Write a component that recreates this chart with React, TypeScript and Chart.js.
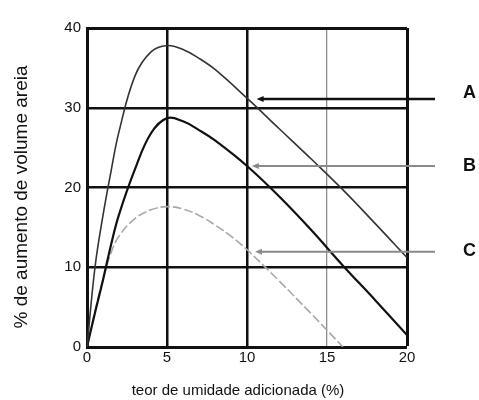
import { useEffect, useRef } from 'react';
import { Chart, registerables } from 'chart.js';

Chart.register(...registerables);

// ---- data ----
const xAB = [0, 0.5, 1, 1.5, 2, 3, 4, 5, 6, 7, 8, 10, 12, 14, 16, 18, 20];
const seriesA = [0, 10, 16.5, 22, 27, 34, 37, 37.8, 37.3, 36.2, 34.8, 31.2, 27.4, 23.6, 19.7, 15.5, 11.2];
const seriesB = [0, 4.3, 8.4, 12.8, 16.6, 22.3, 26.8, 28.7, 28.3, 27.2, 25.9, 22.7, 18.9, 14.7, 10.2, 5.9, 1.5];
const xC = [0, 0.5, 1, 1.5, 2, 3, 4, 5, 6, 7, 8, 9, 10, 12, 14, 16];
const seriesC = [0, 4.5, 8.5, 11.8, 13.9, 16.1, 17.2, 17.6, 17.3, 16.5, 15.3, 13.9, 12.2, 8.3, 4.2, 0];

const seriesNames = ['A', 'B', 'C'];
const arrowY = [31.1, 22.7, 11.95];
const arrowTipX = [10.6, 10.3, 10.5];
const arrowTailX = [21.75, 21.75, 21.75];
const labelX = [23.5, 23.5, 23.5];
const labelY = [31.9, 22.7, 12.0];

const xTicks = [0, 5, 10, 15, 20];
const yTicks = [0, 10, 20, 30, 40];

const xTitle = 'teor de umidade adicionada (%)';
const yTitle = '% de aumento de volume areia';

const FONT = '"Liberation Sans", Arial, Helvetica, sans-serif';

const overlayPlugin = {
  id: 'overlay',
  afterDatasetsDraw(chart: any) {
    const { ctx } = chart;
    const xs = chart.scales.x;
    const ys = chart.scales.y;
    const arrowColors = ['#111', '#8a8a8a', '#8a8a8a'];
    const arrowWidths = [2.5, 2, 2];
    ctx.save();
    for (let i = 0; i < seriesNames.length; i++) {
      const py = ys.getPixelForValue(arrowY[i]);
      const tip = xs.getPixelForValue(arrowTipX[i]);
      const tail = xs.getPixelForValue(arrowTailX[i]);
      ctx.strokeStyle = arrowColors[i];
      ctx.fillStyle = arrowColors[i];
      ctx.lineWidth = arrowWidths[i];
      ctx.beginPath();
      ctx.moveTo(tail, py);
      ctx.lineTo(tip + 5, py);
      ctx.stroke();
      ctx.beginPath();
      ctx.moveTo(tip, py);
      ctx.lineTo(tip + 7, py - 3);
      ctx.lineTo(tip + 7, py + 3);
      ctx.closePath();
      ctx.fill();

      ctx.fillStyle = '#111';
      ctx.font = `bold 18px ${FONT}`;
      ctx.textAlign = 'left';
      ctx.textBaseline = 'middle';
      ctx.fillText(seriesNames[i], xs.getPixelForValue(labelX[i]), ys.getPixelForValue(labelY[i]));
    }
    // axis titles
    ctx.fillStyle = '#111';
    ctx.font = `15px ${FONT}`;
    ctx.textAlign = 'center';
    ctx.textBaseline = 'middle';
    ctx.fillText(xTitle, 238, 391);
    ctx.save();
    ctx.translate(22, 197);
    ctx.rotate(-Math.PI / 2);
    ctx.font = `19px ${FONT}`;
    ctx.fillText(yTitle, 0, 0);
    ctx.restore();
    ctx.restore();
  },
};

export default function App() {
  const ref = useRef<HTMLCanvasElement | null>(null);

  useEffect(() => {
    if (!ref.current) return;
    const chart = new Chart(ref.current, {
      type: 'line',
      data: {
        datasets: [
          {
            label: 'A',
            data: xAB.map((x, i) => ({ x, y: seriesA[i] })),
            borderColor: '#333',
            borderWidth: 1.6,
            pointRadius: 0,
            tension: 0.4,
          },
          {
            label: 'B',
            data: xAB.map((x, i) => ({ x, y: seriesB[i] })),
            borderColor: '#111',
            borderWidth: 2.2,
            pointRadius: 0,
            tension: 0.4,
          },
          {
            label: 'C',
            data: xC.map((x, i) => ({ x, y: seriesC[i] })),
            borderColor: '#a8a8a8',
            borderWidth: 1.6,
            borderDash: [9, 3],
            pointRadius: 0,
            tension: 0.4,
          },
        ],
      },
      options: {
        animation: false,
        responsive: false,
        events: [],
        layout: { padding: { top: 28, right: 72, left: 0, bottom: 0 } },
        plugins: { legend: { display: false }, tooltip: { enabled: false } },
        scales: {
          x: {
            type: 'linear',
            min: 0,
            max: 20,
            afterFit: (s: any) => {
              s.height = 53;
            },
            afterBuildTicks: (s: any) => {
              s.ticks = xTicks.map((v) => ({ value: v }));
            },
            ticks: {
              color: '#111',
              font: { family: FONT, size: 15 },
              padding: 2,
              maxRotation: 0,
            },
            grid: {
              drawTicks: false,
              color: (c: any) => (c.tick && c.tick.value === 15 ? '#8c8c8c' : '#111'),
              lineWidth: (c: any) => {
                const v = c.tick ? c.tick.value : 0;
                if (v === 15) return 1.3;
                if (v === 20) return 3;
                if (v === 0) return 0;
                return 2.5;
              },
            },
            border: { display: true, color: '#111', width: 3 },
          },
          y: {
            type: 'linear',
            min: 0,
            max: 40,
            afterFit: (s: any) => {
              s.width = 87;
            },
            afterBuildTicks: (s: any) => {
              s.ticks = yTicks.map((v) => ({ value: v }));
            },
            ticks: {
              color: '#111',
              font: { family: FONT, size: 15 },
              padding: 6,
            },
            grid: {
              drawTicks: false,
              color: '#111',
              lineWidth: (c: any) => {
                const v = c.tick ? c.tick.value : 0;
                if (v === 40) return 3;
                if (v === 0) return 0;
                return 2.5;
              },
            },
            border: { display: true, color: '#111', width: 3 },
          },
        },
      },
      plugins: [overlayPlugin],
    } as any);
    return () => chart.destroy();
  }, []);

  return (
    <div style={{ position: 'fixed', left: 0, top: 0, width: 479, height: 400, background: '#fff' }}>
      <canvas ref={ref} width={479} height={400} />
    </div>
  );
}
